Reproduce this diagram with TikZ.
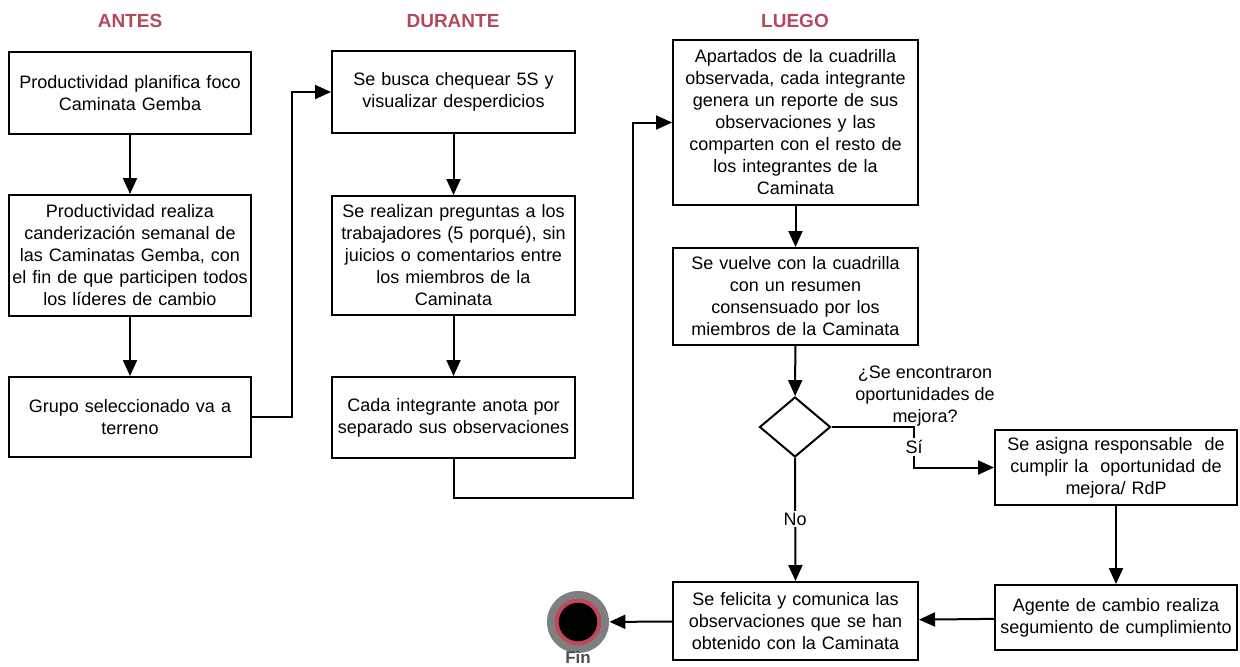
\documentclass[tikz,border=0pt]{standalone}
\usepackage{fontspec}
\setmainfont{Liberation Sans}
\usepackage{xcolor}
\usepackage{tikz}
\usetikzlibrary{arrows.meta,shapes.geometric}
\definecolor{ink}{HTML}{000000}
\definecolor{stage}{HTML}{B34A5C}
\definecolor{ring}{HTML}{C0485A}
\definecolor{finedge}{HTML}{7F7F7F}
\definecolor{fintext}{HTML}{4D4D4D}
\tikzset{
  box/.style={draw=ink, line width=1pt, fill=white, align=center, inner ysep=2pt,
    inner xsep=1pt, font=\fontsize{9}{11}\selectfont},
  boxa/.style={box, minimum width=121pt, text width=119pt},
  boxb/.style={box, minimum width=121.5pt, text width=119.5pt},
  boxc/.style={box, minimum width=122.5pt, text width=120.5pt},
  boxd/.style={box, minimum width=121pt, text width=119pt},
  decide/.style={diamond, draw=ink, line width=1pt, minimum width=35.5pt,
    minimum height=30pt, inner sep=0pt, aspect=1.2},
  arr/.style={draw=ink, line width=1pt, -{Triangle[length=8pt,width=7pt]}},
  head/.style={text=stage, font=\fontsize{9.5}{11}\selectfont\bfseries},
  lbl/.style={font=\fontsize{9}{11}\selectfont, align=center},
  gap/.style={lbl, fill=white, inner sep=1pt},
  finnode/.style={circle, fill=finedge, minimum size=31pt, inner sep=0pt}
}
\begin{document}
\begin{tikzpicture}[x=0.5pt,y=-0.5pt]
  \useasboundingbox (0,0) rectangle (1240,666);

  % stage titles
  \node[head] (antes) at (130,21) {ANTES};
  \node[head] (durante) at (453,21) {DURANTE};
  \node[head] (luego) at (795,21) {LUEGO};

  % antes
  \node[boxa, minimum height=41pt] (a1) at (130,93) {Productividad planifica foco\\Caminata Gemba};
  \node[boxa, minimum height=60.5pt] (a2) at (130,255.5) {Productividad realiza\\canderización semanal de\\las Caminatas Gemba, con\\el fin de que participen todos\\los líderes de cambio};
  \node[boxa, minimum height=40pt] (a3) at (130,417) {Grupo seleccionado va a\\terreno};

  % durante
  \node[boxb, minimum height=41pt] (b1) at (453.5,92) {Se busca chequear 5S y\\visualizar desperdicios};
  \node[boxb, minimum height=59.5pt] (b2) at (453.5,255.5) {Se realizan preguntas a los\\trabajadores (5 porqué), sin\\juicios o comentarios entre\\los miembros de la\\Caminata};
  \node[boxb, minimum height=40.5pt] (b3) at (453.5,417.5) {Cada integrante anota por\\separado sus observaciones};

  % luego
  \node[boxc, minimum height=82.5pt] (c1) at (795.5,122.5) {Apartados de la cuadrilla\\observada, cada integrante\\genera un reporte de sus\\observaciones y las\\comparten con el resto de\\los integrantes de la\\Caminata};
  \node[boxc, minimum height=48.5pt] (c2) at (795.5,296.5) {Se vuelve con la cuadrilla\\con un resumen\\consensuado por los\\miembros de la Caminata};
  \node[decide] (dia) at (795,427) {};
  \node[lbl] (pregunta) at (925,396) {¿Se encontraron\\oportunidades de\\mejora?};
  \node[boxd, minimum height=37.5pt] (d1) at (1116,467.5) {Se asigna responsable\ \ de\\cumplir la\ \ oportunidad de\\mejora/ RdP};
  \node[boxd, minimum height=32.5pt] (d2) at (1116,617.5) {Agente de cambio realiza\\segumiento de cumplimiento};
  \node[boxc, minimum height=39pt] (c3) at (795.5,621) {Se felicita y comunica las\\observaciones que se han\\obtenido con la Caminata};

  % fin
  \node[finnode] (fin) at (578,622) {};
  \fill[ring] (fin.center) circle (11.7pt);
  \fill[ink] (fin.center) circle (9.6pt);
  \node[font=\fontsize{8.5}{9}\selectfont\bfseries, text=fintext, anchor=north, inner sep=0pt] (fintxt) at (578,651) {Fin};

  % connectors
  \coordinate (jog) at (633,498);
  \coordinate (si) at (914,447);
  \draw[arr] (a1) -- (a2);
  \draw[arr] (a2) -- (a3);
  \draw[arr] (a3.east) -- ++(40,0) |- (b1.west);
  \draw[arr] (b1) -- (b2);
  \draw[arr] (b2) -- (b3);
  \draw[arr] (b3.south) |- (jog) |- (c1.west);
  \draw[arr] (c1) -- (c2);
  \draw[arr] (c2) -- (dia);
  \draw[arr] (dia.east) -| (si) |- (d1.west);
  \draw[arr] (dia.south) -- (c3.north);
  \draw[arr] (d1) -- (d2);
  \draw[arr] (d2) -- (c3);
  \draw[arr] (c3) -- (fin);
  \node[gap] (silbl) at (si) {Sí};
  \node[gap] (nolbl) at (795,519) {No};
\end{tikzpicture}
\end{document}
